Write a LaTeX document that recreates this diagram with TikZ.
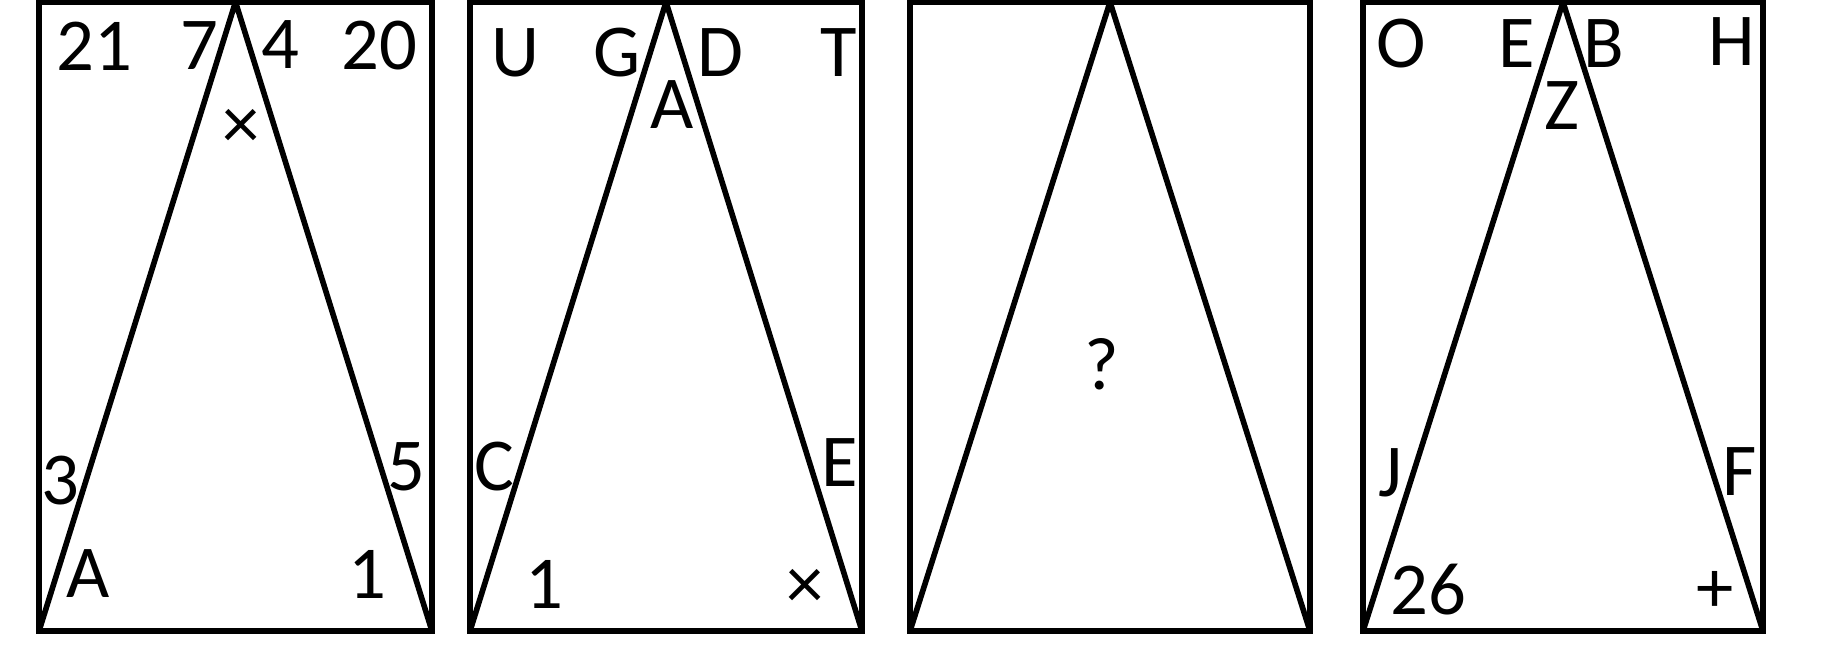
\documentclass[tikz,border=0pt]{standalone}
\usepackage{fontspec}
\setmainfont{Carlito}
\usetikzlibrary{positioning}

\begin{document}
\begin{tikzpicture}[
        x=0.02cm, y=-0.02cm,
        panel/.style={rectangle, draw=black, line width=3.6pt, outer sep=0pt, inner sep=0pt, minimum height=12.58cm},
        side/.style={draw=black, line width=3.2pt, line join=miter},
        lbl/.style={inner sep=0pt, font=\fontsize{42.5}{50}\selectfont}
    ]
        \useasboundingbox (0,0) rectangle (1829,645);

        % the four frames
        \node[panel, minimum width=7.86cm] (p1) at (235.5,316.5) {};
        \node[panel, minimum width=7.84cm] (p2) at (666,316.5) {};
        \node[panel, minimum width=8cm] (p3) at (1110,316.5) {};
        \node[panel, minimum width=8cm] (p4) at (1563,316.5) {};

        % triangles from the bottom corners up to the top middle
        \draw[side] (p1.south west) -- (p1.north) -- (p1.south east);
        \draw[side] (p2.south west) -- (p2.north) -- (p2.south east);
        \draw[side] (p3.south west) -- (p3.north) -- (p3.south east);
        \draw[side] (p4.south west) -- (p4.north) -- (p4.south east);

        % first panel
        \node[lbl] (a1) at (94,46) {21};
        \node[lbl] (a2) at (199,46) {7};
        \node[lbl] (a3) at (280,45) {4};
        \node[lbl] (a4) at (379,46) {20};
        \node[lbl] (a5) at (241,129) {×};
        \node[lbl] (a6) at (60,481) {3};
        \node[lbl] (a7) at (406,467) {5};
        \node[lbl] (a8) at (88,574) {A};
        \node[lbl] (a9) at (367,574) {1};

        % second panel
        \node[lbl] (b1) at (515,53) {U};
        \node[lbl] (b2) at (617,53) {G};
        \node[lbl] (b3) at (720,53) {D};
        \node[lbl] (b4) at (839,53) {T};
        \node[lbl] (b5) at (672,105) {A};
        \node[lbl] (b6) at (494,467) {C};
        \node[lbl] (b7) at (840,463) {E};
        \node[lbl] (b8) at (544,584) {1};
        \node[lbl] (b9) at (805,589) {×};

        % third panel
        \node[lbl] (c1) at (1102,364) {?};

        % fourth panel
        \node[lbl] (d1) at (1401,44) {O};
        \node[lbl] (d2) at (1517,44) {E};
        \node[lbl] (d3) at (1604,44) {B};
        \node[lbl] (d4) at (1732,42) {H};
        \node[lbl] (d5) at (1562,106) {Z};
        \node[lbl] (d6) at (1390,473) {J};
        \node[lbl] (d7) at (1740,472) {F};
        \node[lbl] (d8) at (1428,590) {26};
        \node[lbl] (d9) at (1715,592) {+};
    \end{tikzpicture}
\end{document}
